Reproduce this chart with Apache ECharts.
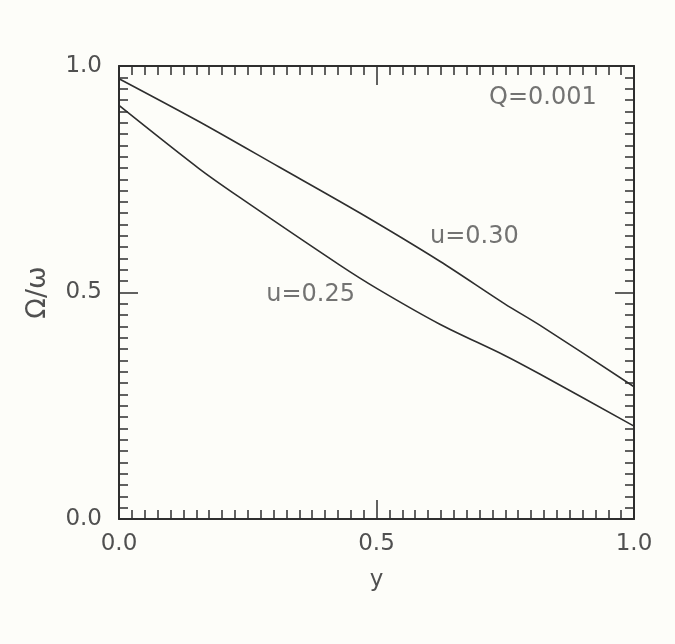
<!DOCTYPE html>
<html>
<head>
<meta charset="utf-8">
<script src="https://cdn.jsdelivr.net/npm/echarts@6/dist/echarts.min.js"></script>
<style>
  html, body { margin: 0; padding: 0; background: #fdfdf9; }
  #chart { width: 675px; height: 644px; }
</style>
</head>
<body>
<div id="chart"></div>
<script>
  // values
  const xU30 = [0, 0.156, 0.311, 0.467, 0.623, 0.749, 0.817, 1.0];
  const yU30 = [0.972, 0.877, 0.777, 0.676, 0.569, 0.475, 0.428, 0.292];

  const xU25 = [0, 0.156, 0.233, 0.428, 0.502, 0.623, 0.749, 0.817, 1.0];
  const yU25 = [0.913, 0.773, 0.711, 0.561, 0.508, 0.430, 0.361, 0.320, 0.205];

  const labelTexts = ["Q=0.001", "u=0.30", "u=0.25"];
  const labelX = [0.823, 0.69, 0.372];
  const labelY = [0.929, 0.624, 0.495];

  const chart = echarts.init(document.getElementById("chart"));

  const ink = "#2e2e2e";
  const textColor = "#505050";
  const font = "DejaVu Sans";

  const frameAxis = {
    type: "value",
    min: 0,
    max: 1,
    interval: 0.5,
    axisLine: { show: true, onZero: false, lineStyle: { color: ink, width: 2 } },
    axisTick: { show: true, inside: true, length: 19, lineStyle: { color: ink, width: 1.5 } },
    minorTick: { show: true, splitNumber: 20, length: 9, lineStyle: { color: ink, width: 1.5 } },
    splitLine: { show: false },
    minorSplitLine: { show: false }
  };

  const pairs = (xs, ys) => xs.map((x, i) => [x, ys[i]]);

  const option = {
    backgroundColor: "#fdfdf9",
    animation: false,
    grid: { left: 119, right: 41, top: 66, bottom: 125 },
    xAxis: [
      Object.assign({}, frameAxis, {
        position: "bottom",
        name: "y",
        nameLocation: "middle",
        nameGap: 50,
        nameTextStyle: { fontFamily: font, fontSize: 23, color: textColor },
        axisLabel: {
          margin: 14, fontFamily: font, fontSize: 23, color: textColor,
          formatter: v => v.toFixed(1)
        }
      }),
      Object.assign({}, frameAxis, { position: "top", axisLabel: { show: false } })
    ],
    yAxis: [
      Object.assign({}, frameAxis, {
        position: "left",
        name: "Ω/ω",
        nameLocation: "middle",
        nameGap: 68,
        nameRotate: 90,
        nameTextStyle: { fontFamily: font, fontSize: 27, color: textColor },
        axisLabel: {
          margin: 17, fontFamily: font, fontSize: 23, color: textColor,
          formatter: v => v.toFixed(1)
        }
      }),
      Object.assign({}, frameAxis, { position: "right", axisLabel: { show: false } })
    ],
    series: [
      {
        name: "u=0.30",
        type: "line",
        smooth: 0.3,
        showSymbol: false,
        lineStyle: { color: ink, width: 1.6 },
        data: pairs(xU30, yU30)
      },
      {
        name: "u=0.25",
        type: "line",
        smooth: 0.3,
        showSymbol: false,
        lineStyle: { color: ink, width: 1.6 },
        data: pairs(xU25, yU25)
      },
      {
        type: "scatter",
        symbolSize: 0,
        silent: true,
        label: {
          show: true,
          position: "inside",
          fontFamily: font,
          fontSize: 24,
          color: textColor,
          formatter: p => p.value[2]
        },
        data: labelTexts.map((t, i) => [labelX[i], labelY[i], t])
      }
    ]
  };

  chart.setOption(option);
</script>
</body>
</html>
